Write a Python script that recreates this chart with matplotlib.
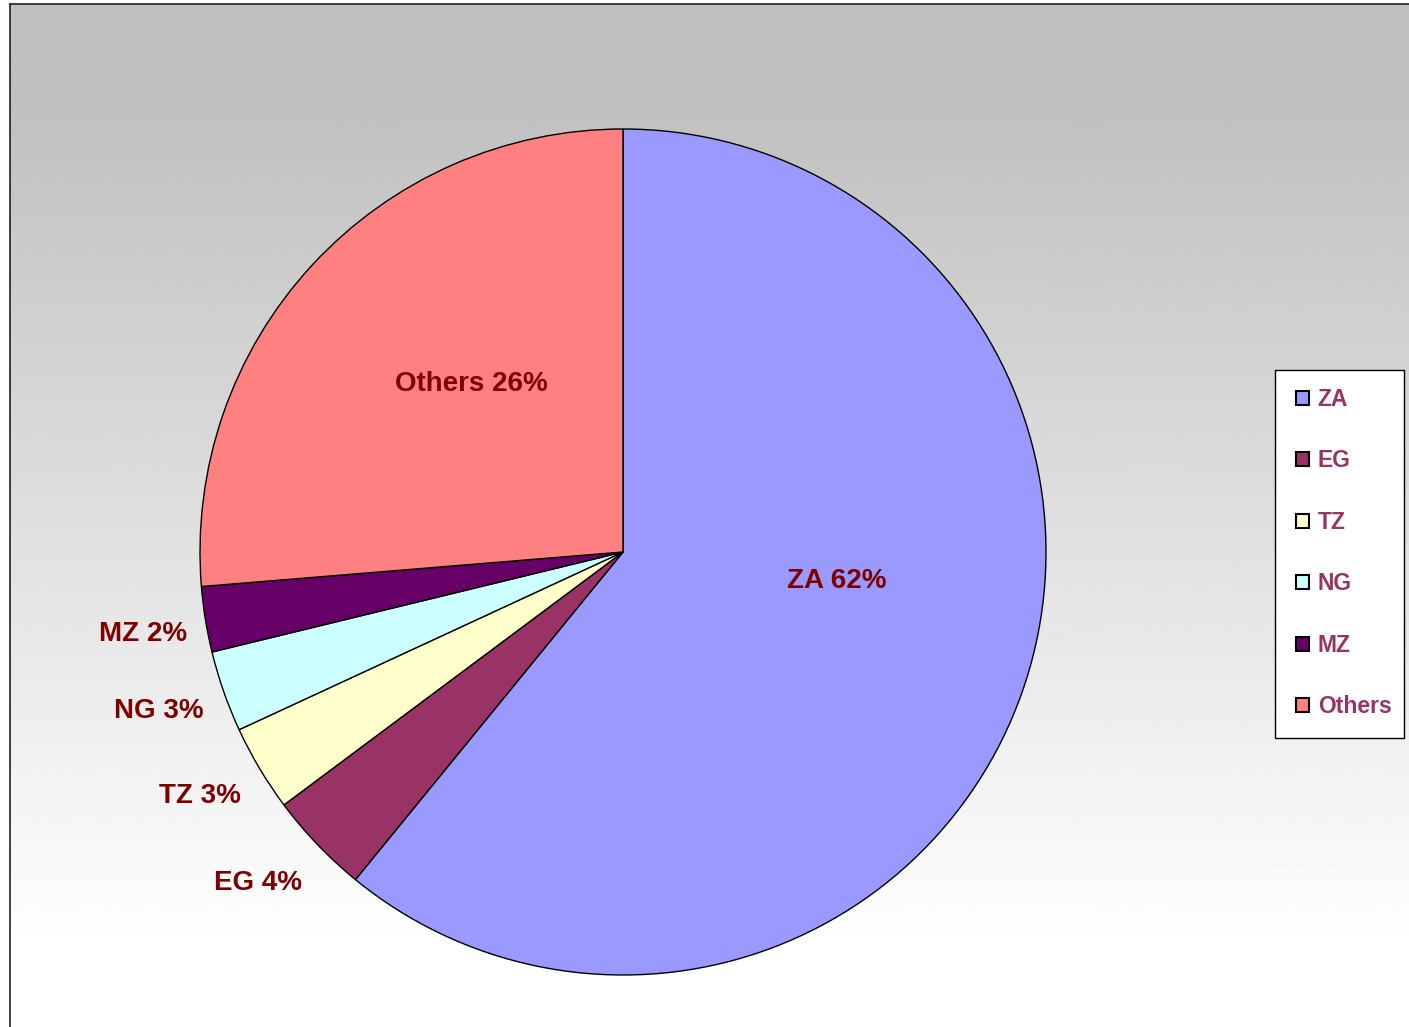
import matplotlib.pyplot as plt
import numpy as np
from matplotlib.patches import Rectangle

countries = ['ZA', 'EG', 'TZ', 'NG', 'MZ', 'Others']
shares = [60.9, 3.9, 3.3, 3.1, 2.5, 26.3]
shown_pct = [62, 4, 3, 3, 2, 26]
colors = ['#9999FF', '#993366', '#FFFFCC', '#CCFFFF', '#660066', '#FF8080']

# label placement: (distance from centre, angle shift in degrees)
label_pos = [(0.51, 11.8), (1.165, -1.5), (1.155, -0.8), (1.16, -0.3), (1.15, 0.5), (0.535, -5.3)]

W, H = 1409, 1027
fig = plt.figure(figsize=(W / 100, H / 100), dpi=100)
fig.patch.set_facecolor('white')

# gradient background with frame
bg = fig.add_axes([10 / W, 0, 1 - 10 / W, (H - 4) / H])
grad = np.clip((np.linspace(0, 1, 400) - 0.1) / 0.82, 0, 1)
shade = 192 / 255 + (1 - 192 / 255) * grad
img = np.repeat(shade[:, None], 2, axis=1)
bg.imshow(img, cmap='gray', vmin=0, vmax=1, aspect='auto', extent=[0, 1, 0, 1])
bg.set_xticks([])
bg.set_yticks([])
for side in ['right', 'bottom']:
    bg.spines[side].set_visible(False)
for side in ['left', 'top']:
    bg.spines[side].set_linewidth(1.2)
    bg.spines[side].set_color('#202020')

cx, cy, r = 623, 552, 423
ax = fig.add_axes([(cx - r) / W, (H - cy - r) / H, 2 * r / W, 2 * r / H])
wedges, _ = ax.pie(shares, colors=colors, startangle=90, counterclock=False,
                   radius=1.0, wedgeprops=dict(edgecolor='black', linewidth=1.0))
ax.set_xlim(-1, 1)
ax.set_ylim(-1, 1)
ax.axis('off')

for w, name, pct, (dist, shift) in zip(wedges, countries, shown_pct, label_pos):
    ang = np.deg2rad((w.theta1 + w.theta2) / 2 + shift)
    ax.text(dist * np.cos(ang), dist * np.sin(ang), f'{name} {pct}%',
            ha='center', va='center', fontsize=20, fontweight='bold',
            color='#800000', family='Liberation Sans', clip_on=False)

# legend box
fig.add_artist(Rectangle((1275 / W, (H - 738) / H), 129 / W, 368 / H,
                         transform=fig.transFigure, facecolor='white',
                         edgecolor='black', linewidth=1.0, zorder=2))
leg = fig.legend(wedges, countries, loc='center left',
                 bbox_to_anchor=(1296 / W, (H - 553) / H),
                 prop={'family': 'Liberation Sans', 'weight': 'bold', 'size': 16.5},
                 labelcolor='#993366', frameon=False,
                 handlelength=0.55, handleheight=0.55, handletextpad=0.4,
                 labelspacing=1.68, borderpad=0, borderaxespad=0)
leg.set_zorder(3)
for h in leg.legend_handles:
    h.set_linewidth(1.5)

fig.savefig('out.png', dpi=100)
